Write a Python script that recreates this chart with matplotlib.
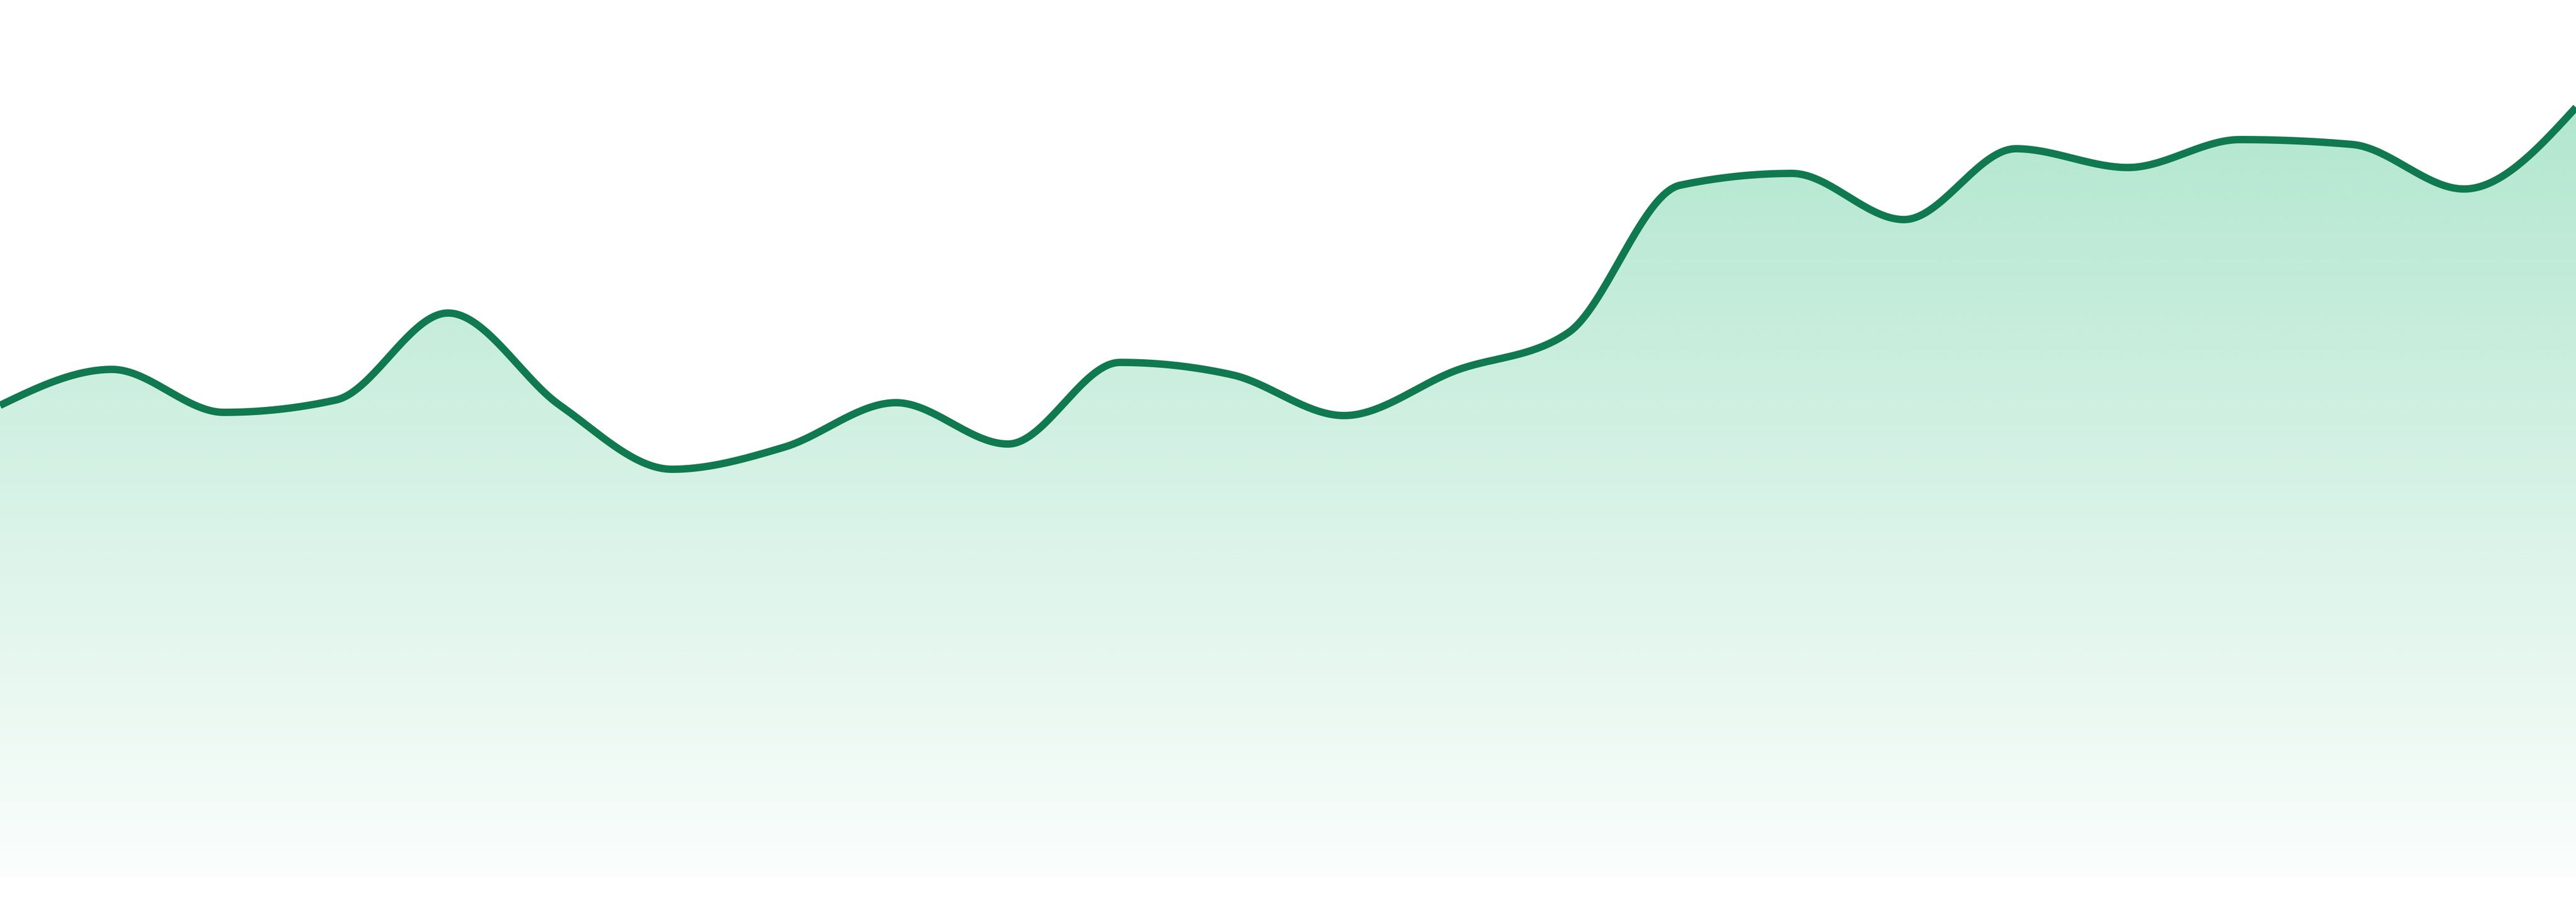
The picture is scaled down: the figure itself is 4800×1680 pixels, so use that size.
import numpy as np
import matplotlib
matplotlib.use("Agg")
import matplotlib.pyplot as plt
from matplotlib.colors import to_rgb

# data ########################################################################

points = list(range(24))
values = [88.0, 94.7, 86.7, 89.0, 105.2, 88.0, 76.1, 80.2, 88.5, 80.8, 96.0, 93.7,
          86.1, 94.5, 101.5, 129.0, 131.2, 122.6, 135.8, 132.3, 137.5, 136.6, 128.3, 143.5]

line_color = "#10794f"
fill_color = "#34be82"


def monotone_x(x, y, n=40):
    # same idea as d3.curveMonotoneX
    x = np.asarray(x, float)
    y = np.asarray(y, float)
    h = np.diff(x)
    s = np.diff(y) / h
    t = np.zeros(len(x))
    for i in range(1, len(x) - 1):
        p = (s[i - 1] * h[i] + s[i] * h[i - 1]) / (h[i - 1] + h[i])
        t[i] = (np.sign(s[i - 1]) + np.sign(s[i])) * min(abs(s[i - 1]), abs(s[i]), 0.5 * abs(p))
    t[0] = (3 * s[0] - t[1]) / 2
    t[-1] = (3 * s[-1] - t[-2]) / 2

    xs, ys = [], []
    for i in range(len(x) - 1):
        u = np.linspace(0, 1, n, endpoint=False)
        dx = h[i]
        # bezier control points
        p0 = np.array([x[i], y[i]])
        p1 = np.array([x[i] + dx / 3, y[i] + dx * t[i] / 3])
        p2 = np.array([x[i + 1] - dx / 3, y[i + 1] - dx * t[i + 1] / 3])
        p3 = np.array([x[i + 1], y[i + 1]])
        b = ((1 - u) ** 3)[:, None] * p0 + (3 * (1 - u) ** 2 * u)[:, None] * p1 \
            + (3 * (1 - u) * u ** 2)[:, None] * p2 + (u ** 3)[:, None] * p3
        xs.extend(b[:, 0])
        ys.extend(b[:, 1])
    xs.append(x[-1])
    ys.append(y[-1])
    return np.array(xs), np.array(ys)


cx, cy = monotone_x(points, values)

fig = plt.figure(figsize=(16, 5.6), dpi=300)
ax = fig.add_axes([0, 0, 1, 1])
ax.set_xlim(0, 23)
ax.set_ylim(-4.5, 163.5)
ax.axis("off")

# gradient fill under the line
top = max(values)
rows = 256
alpha = np.linspace(0.38, 0.02, rows)[:, None]
rgb = np.array(to_rgb(fill_color))
grad = np.ones((rows, 2, 4))
grad[..., :3] = rgb
grad[..., 3] = alpha
img = ax.imshow(grad, extent=[0, 23, 0, top], aspect="auto", origin="upper",
                interpolation="bilinear", zorder=1)
poly = ax.fill_between(cx, 0, cy, color="none", lw=0)
clip = poly.get_paths()[0]
img.set_clip_path(clip, transform=ax.transData)

ax.plot(cx, cy, color=line_color, lw=3.3, solid_capstyle="butt", zorder=3)

fig.savefig("out.png", dpi=300, facecolor="white")
